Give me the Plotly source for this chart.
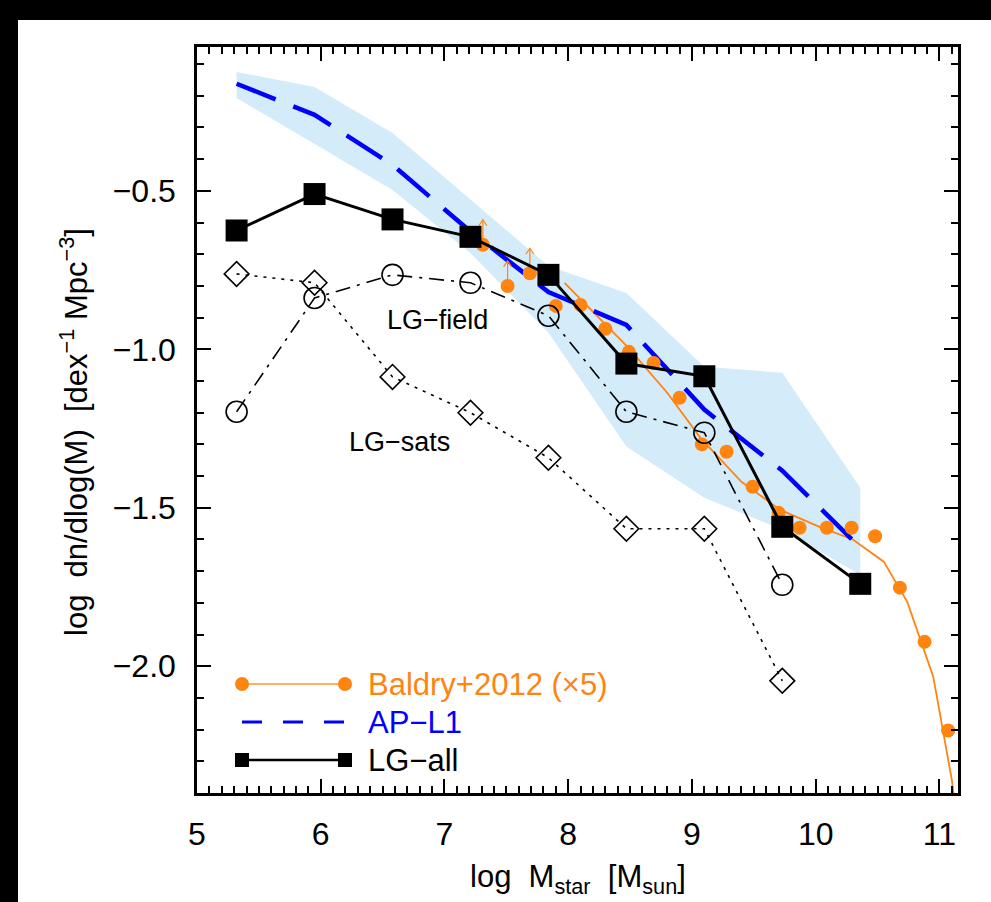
import plotly.graph_objects as go

# ---------------- data ----------------
x_bins = [5.32, 5.95, 6.58, 7.21, 7.84, 8.47, 9.10, 9.73, 10.36]
lg_all = [-0.625, -0.51, -0.59, -0.645, -0.765, -1.045, -1.085, -1.56, -1.74]
lg_field = [-1.197, -0.838, -0.765, -0.79, -0.894, -1.197, -1.263, -1.743]
lg_sats = [-0.762, -0.79, -1.087, -1.20, -1.342, -1.566, -1.566, -2.046]
ap_l1 = [-0.162, -0.26, -0.418, -0.628, -0.819, -0.923, -1.19, -1.383, -1.626]
ap_hi = [-0.125, -0.172, -0.317, -0.528, -0.737, -0.822, -1.055, -1.074, -1.437]
ap_lo = [-0.207, -0.352, -0.497, -0.696, -0.948, -1.307, -1.468, -1.569, -1.711]

baldry_x = [7.31, 7.51, 7.69, 7.90, 8.10, 8.30, 8.49, 8.69, 8.90, 9.08,
            9.28, 9.49, 9.70, 9.87, 10.09, 10.29, 10.48, 10.68, 10.88, 11.07]
baldry_y = [-0.67, -0.80, -0.76, -0.863, -0.86, -0.935, -1.008, -1.043, -1.153, -1.30,
            -1.323, -1.434, -1.516, -1.563, -1.563, -1.563, -1.59, -1.752, -1.923, -2.203]
baldry_lowlim = [True, True, True] + [False] * 17

fit_x = [7.97, 8.48, 8.80, 9.07, 9.40, 9.71, 10.03, 10.30, 10.55, 10.74, 10.95, 11.10, 11.13]
fit_y = [-0.79, -0.992, -1.137, -1.28, -1.418, -1.506, -1.56, -1.60, -1.67, -1.797, -2.033, -2.358, -2.45]

x_ticks = [5, 6, 7, 8, 9, 10, 11]
y_ticks = [-2.0, -1.5, -1.0, -0.5]

# ---------------- style ----------------
FONT = "Liberation Sans, Arial, Helvetica, sans-serif"
ORANGE = "#ff8410"
BLUE = "#0000ff"
BAND = "rgb(212,235,250)"
W, H = 991, 902
L, R, T, B = 197, 33, 47, 109
PW, PH = W - L - R, H - T - B
X_RANGE = [5, 11.15]
Y_RANGE = [-2.4, -0.046]


def px(xp):
    return (xp - L) / PW


def py(yp):
    return (H - B - yp) / PH


# pixel -> data unit conversions for the small limit arrows
XU = (X_RANGE[1] - X_RANGE[0]) / PW
YU = (Y_RANGE[1] - Y_RANGE[0]) / PH

fig = go.Figure()

# AP-L1 band
fig.add_trace(go.Scatter(
    x=x_bins + x_bins[::-1], y=ap_hi + ap_lo[::-1],
    mode="lines", fill="toself", fillcolor=BAND, line=dict(width=0),
    hoverinfo="skip", showlegend=False))

# Baldry fit line
fig.add_trace(go.Scatter(x=fit_x, y=fit_y, mode="lines",
                         line=dict(color=ORANGE, width=1.8), showlegend=False))

# AP-L1 dashed
fig.add_trace(go.Scatter(x=x_bins, y=ap_l1, mode="lines",
                         line=dict(color=BLUE, width=4.5, dash="42px,19px"),
                         showlegend=False))

# Baldry lower-limit arrows (shaft + open chevron head)
arr_x, arr_y = [], []
for bx, by, lim in zip(baldry_x, baldry_y, baldry_lowlim):
    if lim:
        top = by + 25 * YU
        arr_x += [bx, bx, None, bx - 4 * XU, bx, bx + 4 * XU, None]
        arr_y += [by, top, None, top - 6 * YU, top, top - 6 * YU, None]
fig.add_trace(go.Scatter(x=arr_x, y=arr_y, mode="lines",
                         line=dict(color=ORANGE, width=1.2), showlegend=False,
                         hoverinfo="skip"))

# Baldry points
fig.add_trace(go.Scatter(x=baldry_x, y=baldry_y, mode="markers",
                         marker=dict(color=ORANGE, size=14, line=dict(width=0)),
                         showlegend=False))

# LG-sats
fig.add_trace(go.Scatter(x=x_bins[:len(lg_sats)], y=lg_sats, mode="lines+markers",
                         line=dict(color="black", width=1.6, dash="3px,6px"),
                         marker=dict(symbol="diamond-open", size=19, color="black",
                                     line=dict(width=1.6)),
                         showlegend=False))

# LG-field
fig.add_trace(go.Scatter(x=x_bins[:len(lg_field)], y=lg_field, mode="lines+markers",
                         line=dict(color="black", width=1.6, dash="15px,7px,3px,7px"),
                         marker=dict(symbol="circle-open", size=21, color="black",
                                     line=dict(width=1.6)),
                         showlegend=False))

# LG-all
fig.add_trace(go.Scatter(x=x_bins, y=lg_all, mode="lines+markers",
                         line=dict(color="black", width=3),
                         marker=dict(symbol="square", size=22, color="black"),
                         showlegend=False))

annotations = []
# text labels
annotations.append(dict(x=6.94, y=-0.907, xref="x", yref="y", text="LG\u2212field",
                        showarrow=False, font=dict(family=FONT, size=27, color="black")))
annotations.append(dict(x=6.64, y=-1.292, xref="x", yref="y", text="LG\u2212sats",
                        showarrow=False, font=dict(family=FONT, size=27, color="black")))

# axis titles
annotations.append(dict(x=0.5, y=py(879), xref="paper", yref="paper",
                        text="log\u00a0\u00a0M<sub>star</sub>\u00a0\u00a0[M<sub>sun</sub>]",
                        showarrow=False, xanchor="center", yanchor="middle",
                        font=dict(family=FONT, size=31, color="black")))
annotations.append(dict(x=px(74), y=py(432), xref="paper", yref="paper",
                        text="log\u00a0\u00a0dn/dlog(M)\u00a0\u00a0[dex<sup>\u22121</sup> Mpc<sup>\u22123</sup>]",
                        showarrow=False, textangle=-90, xanchor="center", yanchor="middle",
                        font=dict(family=FONT, size=31, color="black")))

# custom legend
leg_rows = [("Baldry+2012 (\u00d75)", ORANGE, 684),
            ("AP\u2212L1", BLUE, 722),
            ("LG\u2212all", "black", 760)]
shapes = []
# black page borders (top and left), kept inside the figure bounds
shapes.append(dict(type="rect", xref="paper", yref="paper", x0=px(0), x1=px(18),
                   y0=py(H), y1=py(0), fillcolor="black", line=dict(width=0), layer="below"))
shapes.append(dict(type="rect", xref="paper", yref="paper", x0=px(0), x1=px(W),
                   y0=py(20), y1=py(0), fillcolor="black", line=dict(width=0), layer="below"))
xa, xb = px(242), px(345)
for label, col, yp in leg_rows:
    annotations.append(dict(x=px(366), y=py(yp), xref="paper", yref="paper", text=label,
                            showarrow=False, xanchor="left", yanchor="middle",
                            font=dict(family=FONT, size=31, color=col)))
r0 = py(684)
shapes.append(dict(type="line", xref="paper", yref="paper", x0=xa, x1=xb, y0=r0, y1=r0,
                   line=dict(color="#ffb060", width=2)))
for xx in (xa, xb):
    shapes.append(dict(type="circle", xref="paper", yref="paper", xsizemode="pixel",
                       ysizemode="pixel", xanchor=xx, yanchor=r0, x0=-7, x1=7, y0=-7, y1=7,
                       fillcolor=ORANGE, line=dict(width=0)))
r1 = py(722)
shapes.append(dict(type="line", xref="paper", yref="paper", x0=xa, x1=xb, y0=r1, y1=r1,
                   line=dict(color=BLUE, width=3, dash="20px,21px")))
r2 = py(760)
shapes.append(dict(type="line", xref="paper", yref="paper", x0=xa, x1=xb, y0=r2, y1=r2,
                   line=dict(color="black", width=2.5)))
for xx in (xa, xb):
    shapes.append(dict(type="rect", xref="paper", yref="paper", xsizemode="pixel",
                       ysizemode="pixel", xanchor=xx, yanchor=r2, x0=-7, x1=7, y0=-7, y1=7,
                       fillcolor="black", line=dict(width=0)))

axis_common = dict(showline=True, linecolor="black", linewidth=2.5, mirror="allticks",
                   ticks="inside", tickcolor="black", tickwidth=2, showgrid=False,
                   zeroline=False, tickfont=dict(family=FONT, size=32, color="black"))

fig.update_layout(
    width=W, height=H,
    margin=dict(l=L, r=R, t=T, b=B, pad=0),
    paper_bgcolor="white", plot_bgcolor="white",
    showlegend=False,
    xaxis=dict(range=X_RANGE, tickvals=x_ticks, ticklen=14,
               minor=dict(dtick=0.1, tick0=5, ticks="inside", ticklen=7, tickwidth=1.5,
                          tickcolor="black", showgrid=False),
               ticklabelstandoff=11, **axis_common),
    yaxis=dict(range=Y_RANGE, tickvals=y_ticks, tickformat=".1f", ticklen=14,
               minor=dict(dtick=0.1, tick0=0, ticks="inside", ticklen=7, tickwidth=1.5,
                          tickcolor="black", showgrid=False),
               ticklabelstandoff=12, **axis_common),
    annotations=annotations,
    shapes=shapes,
)

page_fix = ("var h=document.documentElement,b=document.body;"
            "h.style.margin='0';b.style.margin='0';h.style.padding='0';b.style.padding='0';"
            "h.style.background='white';b.style.background='white';"
            "h.style.overflow='hidden';b.style.overflow='hidden';")
fig.write_html("out.html", post_script=page_fix, config={"displayModeBar": False})
